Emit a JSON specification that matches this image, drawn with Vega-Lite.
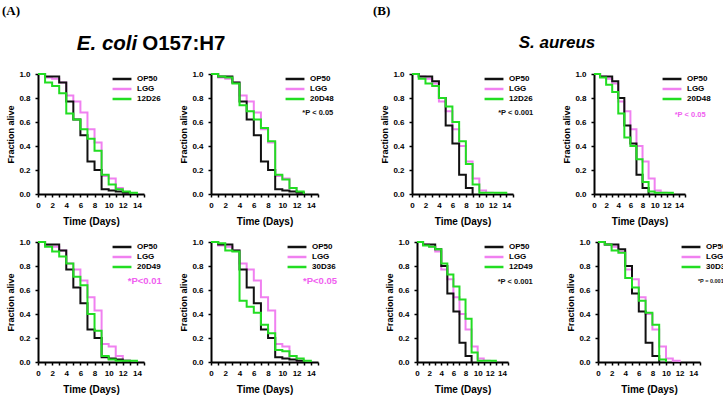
{
  "$schema": "https://vega.github.io/schema/vega-lite/v6.json",
  "autosize": {"type": "none"},
  "padding": {"left": 38, "top": 74, "right": 685, "bottom": 324},
  "background": "white",
  "datasets": {
    "ecoli_ctrl": [
      {"strain": "LGG", "day": 0, "fraction": 1.0}, {"strain": "LGG", "day": 1, "fraction": 0.97}, {"strain": "LGG", "day": 2, "fraction": 0.96},
      {"strain": "LGG", "day": 3, "fraction": 0.93}, {"strain": "LGG", "day": 4, "fraction": 0.82}, {"strain": "LGG", "day": 5, "fraction": 0.77},
      {"strain": "LGG", "day": 6, "fraction": 0.68}, {"strain": "LGG", "day": 7, "fraction": 0.54}, {"strain": "LGG", "day": 8, "fraction": 0.43},
      {"strain": "LGG", "day": 9, "fraction": 0.15}, {"strain": "LGG", "day": 10, "fraction": 0.13}, {"strain": "LGG", "day": 11, "fraction": 0.05},
      {"strain": "LGG", "day": 12, "fraction": 0.01}, {"strain": "LGG", "day": 13, "fraction": 0.0},
      {"strain": "OP50", "day": 0, "fraction": 1.0}, {"strain": "OP50", "day": 1, "fraction": 0.98}, {"strain": "OP50", "day": 2, "fraction": 0.98},
      {"strain": "OP50", "day": 3, "fraction": 0.93}, {"strain": "OP50", "day": 4, "fraction": 0.77}, {"strain": "OP50", "day": 5, "fraction": 0.62},
      {"strain": "OP50", "day": 6, "fraction": 0.49}, {"strain": "OP50", "day": 7, "fraction": 0.27}, {"strain": "OP50", "day": 8, "fraction": 0.2},
      {"strain": "OP50", "day": 9, "fraction": 0.04}, {"strain": "OP50", "day": 10, "fraction": 0.03}, {"strain": "OP50", "day": 11, "fraction": 0.02},
      {"strain": "OP50", "day": 12, "fraction": 0.01}, {"strain": "OP50", "day": 13, "fraction": 0.0}
    ],
    "ecoli_test": [
      {"strain": "12D26", "day": 0, "fraction": 1.0}, {"strain": "12D26", "day": 1, "fraction": 0.93}, {"strain": "12D26", "day": 2, "fraction": 0.9},
      {"strain": "12D26", "day": 3, "fraction": 0.84}, {"strain": "12D26", "day": 4, "fraction": 0.67}, {"strain": "12D26", "day": 5, "fraction": 0.62},
      {"strain": "12D26", "day": 6, "fraction": 0.54}, {"strain": "12D26", "day": 7, "fraction": 0.46}, {"strain": "12D26", "day": 8, "fraction": 0.36},
      {"strain": "12D26", "day": 9, "fraction": 0.16}, {"strain": "12D26", "day": 10, "fraction": 0.08}, {"strain": "12D26", "day": 11, "fraction": 0.04},
      {"strain": "12D26", "day": 12, "fraction": 0.02}, {"strain": "12D26", "day": 13, "fraction": 0.01}, {"strain": "12D26", "day": 14, "fraction": 0.0},
      {"strain": "20D48", "day": 0, "fraction": 1.0}, {"strain": "20D48", "day": 1, "fraction": 0.98}, {"strain": "20D48", "day": 2, "fraction": 0.97},
      {"strain": "20D48", "day": 3, "fraction": 0.92}, {"strain": "20D48", "day": 4, "fraction": 0.74}, {"strain": "20D48", "day": 5, "fraction": 0.69},
      {"strain": "20D48", "day": 6, "fraction": 0.62}, {"strain": "20D48", "day": 7, "fraction": 0.55}, {"strain": "20D48", "day": 8, "fraction": 0.44},
      {"strain": "20D48", "day": 9, "fraction": 0.16}, {"strain": "20D48", "day": 10, "fraction": 0.12}, {"strain": "20D48", "day": 11, "fraction": 0.05},
      {"strain": "20D48", "day": 12, "fraction": 0.02}, {"strain": "20D48", "day": 13, "fraction": 0.0},
      {"strain": "20D49", "day": 0, "fraction": 1.0}, {"strain": "20D49", "day": 1, "fraction": 0.96}, {"strain": "20D49", "day": 2, "fraction": 0.92},
      {"strain": "20D49", "day": 3, "fraction": 0.88}, {"strain": "20D49", "day": 4, "fraction": 0.82}, {"strain": "20D49", "day": 5, "fraction": 0.71},
      {"strain": "20D49", "day": 6, "fraction": 0.64}, {"strain": "20D49", "day": 7, "fraction": 0.4}, {"strain": "20D49", "day": 8, "fraction": 0.26},
      {"strain": "20D49", "day": 9, "fraction": 0.05}, {"strain": "20D49", "day": 10, "fraction": 0.02}, {"strain": "20D49", "day": 11, "fraction": 0.01},
      {"strain": "20D49", "day": 12, "fraction": 0.01}, {"strain": "20D49", "day": 13, "fraction": 0.01}, {"strain": "20D49", "day": 14, "fraction": 0.0},
      {"strain": "30D36", "day": 0, "fraction": 1.0}, {"strain": "30D36", "day": 1, "fraction": 0.99}, {"strain": "30D36", "day": 2, "fraction": 0.93},
      {"strain": "30D36", "day": 3, "fraction": 0.92}, {"strain": "30D36", "day": 4, "fraction": 0.51}, {"strain": "30D36", "day": 5, "fraction": 0.46},
      {"strain": "30D36", "day": 6, "fraction": 0.41}, {"strain": "30D36", "day": 7, "fraction": 0.31}, {"strain": "30D36", "day": 8, "fraction": 0.24},
      {"strain": "30D36", "day": 9, "fraction": 0.1}, {"strain": "30D36", "day": 10, "fraction": 0.09}, {"strain": "30D36", "day": 11, "fraction": 0.05},
      {"strain": "30D36", "day": 12, "fraction": 0.03}, {"strain": "30D36", "day": 13, "fraction": 0.01}, {"strain": "30D36", "day": 14, "fraction": 0.0}
    ],
    "saureus_ctrl": [
      {"strain": "LGG", "day": 0, "fraction": 1.0}, {"strain": "LGG", "day": 1, "fraction": 0.98}, {"strain": "LGG", "day": 2, "fraction": 0.96},
      {"strain": "LGG", "day": 3, "fraction": 0.92}, {"strain": "LGG", "day": 4, "fraction": 0.77}, {"strain": "LGG", "day": 5, "fraction": 0.69},
      {"strain": "LGG", "day": 6, "fraction": 0.54}, {"strain": "LGG", "day": 7, "fraction": 0.4}, {"strain": "LGG", "day": 8, "fraction": 0.27},
      {"strain": "LGG", "day": 9, "fraction": 0.13}, {"strain": "LGG", "day": 10, "fraction": 0.03}, {"strain": "LGG", "day": 11, "fraction": 0.01},
      {"strain": "LGG", "day": 12, "fraction": 0.0},
      {"strain": "OP50", "day": 0, "fraction": 1.0}, {"strain": "OP50", "day": 1, "fraction": 0.98}, {"strain": "OP50", "day": 2, "fraction": 0.98},
      {"strain": "OP50", "day": 3, "fraction": 0.94}, {"strain": "OP50", "day": 4, "fraction": 0.8}, {"strain": "OP50", "day": 5, "fraction": 0.57},
      {"strain": "OP50", "day": 6, "fraction": 0.42}, {"strain": "OP50", "day": 7, "fraction": 0.16}, {"strain": "OP50", "day": 8, "fraction": 0.05},
      {"strain": "OP50", "day": 9, "fraction": 0.0}
    ],
    "saureus_test": [
      {"strain": "12D26", "day": 0, "fraction": 1.0}, {"strain": "12D26", "day": 1, "fraction": 0.96}, {"strain": "12D26", "day": 2, "fraction": 0.92},
      {"strain": "12D26", "day": 3, "fraction": 0.9}, {"strain": "12D26", "day": 4, "fraction": 0.8}, {"strain": "12D26", "day": 5, "fraction": 0.73},
      {"strain": "12D26", "day": 6, "fraction": 0.6}, {"strain": "12D26", "day": 7, "fraction": 0.44}, {"strain": "12D26", "day": 8, "fraction": 0.25},
      {"strain": "12D26", "day": 9, "fraction": 0.08}, {"strain": "12D26", "day": 10, "fraction": 0.01}, {"strain": "12D26", "day": 11, "fraction": 0.01},
      {"strain": "12D26", "day": 12, "fraction": 0.01}, {"strain": "12D26", "day": 13, "fraction": 0.01}, {"strain": "12D26", "day": 14, "fraction": 0.0},
      {"strain": "20D48", "day": 0, "fraction": 1.0}, {"strain": "20D48", "day": 1, "fraction": 0.97}, {"strain": "20D48", "day": 2, "fraction": 0.91},
      {"strain": "20D48", "day": 3, "fraction": 0.85}, {"strain": "20D48", "day": 4, "fraction": 0.67}, {"strain": "20D48", "day": 5, "fraction": 0.47},
      {"strain": "20D48", "day": 6, "fraction": 0.4}, {"strain": "20D48", "day": 7, "fraction": 0.29}, {"strain": "20D48", "day": 8, "fraction": 0.1},
      {"strain": "20D48", "day": 9, "fraction": 0.02}, {"strain": "20D48", "day": 10, "fraction": 0.01}, {"strain": "20D48", "day": 11, "fraction": 0.01},
      {"strain": "20D48", "day": 12, "fraction": 0.01}, {"strain": "20D48", "day": 13, "fraction": 0.0},
      {"strain": "12D49", "day": 0, "fraction": 1.0}, {"strain": "12D49", "day": 1, "fraction": 0.97}, {"strain": "12D49", "day": 2, "fraction": 0.96},
      {"strain": "12D49", "day": 3, "fraction": 0.94}, {"strain": "12D49", "day": 4, "fraction": 0.82}, {"strain": "12D49", "day": 5, "fraction": 0.73},
      {"strain": "12D49", "day": 6, "fraction": 0.63}, {"strain": "12D49", "day": 7, "fraction": 0.52}, {"strain": "12D49", "day": 8, "fraction": 0.36},
      {"strain": "12D49", "day": 9, "fraction": 0.08}, {"strain": "12D49", "day": 10, "fraction": 0.01}, {"strain": "12D49", "day": 11, "fraction": 0.01},
      {"strain": "12D49", "day": 12, "fraction": 0.01}, {"strain": "12D49", "day": 13, "fraction": 0.0},
      {"strain": "30D36", "day": 0, "fraction": 1.0}, {"strain": "30D36", "day": 1, "fraction": 0.98}, {"strain": "30D36", "day": 2, "fraction": 0.93},
      {"strain": "30D36", "day": 3, "fraction": 0.91}, {"strain": "30D36", "day": 4, "fraction": 0.7}, {"strain": "30D36", "day": 5, "fraction": 0.62},
      {"strain": "30D36", "day": 6, "fraction": 0.51}, {"strain": "30D36", "day": 7, "fraction": 0.41}, {"strain": "30D36", "day": 8, "fraction": 0.31},
      {"strain": "30D36", "day": 9, "fraction": 0.02}, {"strain": "30D36", "day": 10, "fraction": 0.0}
    ]
  },
  "bounds": "flush",
  "spacing": 168,
  "resolve": {
    "scale": {"x": "independent", "y": "independent", "color": "independent"},
    "legend": {"color": "independent"}
  },
  "vconcat": [
    {
      "bounds": "flush",
      "spacing": 0,
      "resolve": {
        "scale": {"x": "independent", "y": "independent", "color": "independent"},
        "legend": {"color": "independent"}
      },
      "hconcat": [
        {
          "width": 106, "height": 120,
          "layer": [
            {"data": {"name": "ecoli_ctrl"}, "mark": {"type": "line", "interpolate": "step-after", "strokeWidth": 2},
             "encoding": {
               "x": {"field": "day", "type": "quantitative", "scale": {"domain": [0, 15], "nice": false}, "axis": {"title": "Time (Days)", "tickCount": 15, "labelExpr": "datum.value % 2 || datum.value > 14 ? '' : datum.label", "labelOverlap": false}},
               "y": {"field": "fraction", "type": "quantitative", "scale": {"domain": [0, 1], "nice": false}, "axis": {"title": "Fraction alive", "tickCount": 5, "format": ".1f", "labelOverlap": false}},
               "color": {"field": "strain", "type": "nominal", "scale": {"domain": ["OP50", "LGG", "12D26"], "range": ["#111111", "#f080f0", "#22dd22"]}, "legend": {"title": null, "orient": "right", "offset": -27, "symbolType": "M-2.7,0H2.7", "symbolSize": 49, "symbolStrokeWidth": 2.5}}
             }},
            {"data": {"name": "ecoli_test"}, "transform": [{"filter": "datum.strain === '12D26'"}], "mark": {"type": "line", "interpolate": "step-after", "strokeWidth": 2},
             "encoding": {
               "x": {"field": "day", "type": "quantitative"},
               "y": {"field": "fraction", "type": "quantitative"},
               "color": {"field": "strain", "type": "nominal", "scale": {"domain": ["OP50", "LGG", "12D26"], "range": ["#111111", "#f080f0", "#22dd22"]}, "legend": {"title": null, "orient": "right", "offset": -27, "symbolType": "M-2.7,0H2.7", "symbolSize": 49, "symbolStrokeWidth": 2.5}}
             }},
            {"data": {"values": [{}]}, "mark": {"type": "text", "text": "(A)", "font": "Liberation Serif", "fontSize": 13, "fontWeight": "bold", "align": "left", "baseline": "alphabetic", "fill": "#000"},
             "encoding": {"x": {"datum": -5.09}, "y": {"datum": 1.49}}},
            {"data": {"values": [{}]}, "mark": {"type": "text", "text": "E. coli", "fontSize": 20.5, "fontWeight": "bold", "fontStyle": "italic", "align": "left", "baseline": "alphabetic", "fill": "#000"},
             "encoding": {"x": {"datum": 5.5}, "y": {"datum": 1.2}}},
            {"data": {"values": [{}]}, "mark": {"type": "text", "text": "O157:H7", "fontSize": 20.5, "fontWeight": "bold", "align": "left", "baseline": "alphabetic", "fill": "#000"},
             "encoding": {"x": {"datum": 14.75}, "y": {"datum": 1.2}}}
          ]
        },
        {"width": 67, "height": 1, "data": {"values": [{}]}, "mark": {"type": "point", "opacity": 0}, "encoding": {}},
        {
          "width": 107, "height": 120,
          "layer": [
            {"data": {"name": "ecoli_ctrl"}, "mark": {"type": "line", "interpolate": "step-after", "strokeWidth": 2},
             "encoding": {
               "x": {"field": "day", "type": "quantitative", "scale": {"domain": [0, 15], "nice": false}, "axis": {"title": "Time (Days)", "tickCount": 15, "labelExpr": "datum.value % 2 || datum.value > 14 ? '' : datum.label", "labelOverlap": false}},
               "y": {"field": "fraction", "type": "quantitative", "scale": {"domain": [0, 1], "nice": false}, "axis": {"title": "Fraction alive", "tickCount": 5, "format": ".1f", "labelOverlap": false}},
               "color": {"field": "strain", "type": "nominal", "scale": {"domain": ["OP50", "LGG", "20D48"], "range": ["#111111", "#f080f0", "#22dd22"]}, "legend": {"title": null, "orient": "right", "offset": -28, "symbolType": "M-2.7,0H2.7", "symbolSize": 49, "symbolStrokeWidth": 2.5}}
             }},
            {"data": {"name": "ecoli_test"}, "transform": [{"filter": "datum.strain === '20D48'"}], "mark": {"type": "line", "interpolate": "step-after", "strokeWidth": 2},
             "encoding": {
               "x": {"field": "day", "type": "quantitative"},
               "y": {"field": "fraction", "type": "quantitative"},
               "color": {"field": "strain", "type": "nominal", "scale": {"domain": ["OP50", "LGG", "20D48"], "range": ["#111111", "#f080f0", "#22dd22"]}, "legend": {"title": null, "orient": "right", "offset": -28, "symbolType": "M-2.7,0H2.7", "symbolSize": 49, "symbolStrokeWidth": 2.5}}
             }},
            {"data": {"values": [{}]}, "mark": {"type": "text", "text": "*P < 0.05", "fontSize": 7.5, "fontWeight": "bold", "align": "left", "baseline": "middle", "fill": "#111"},
             "encoding": {"x": {"datum": 12.8}, "y": {"datum": 0.675}}}
          ]
        },
        {"width": 94, "height": 1, "data": {"values": [{}]}, "mark": {"type": "point", "opacity": 0}, "encoding": {}},
        {
          "width": 101, "height": 120,
          "layer": [
            {"data": {"name": "saureus_ctrl"}, "mark": {"type": "line", "interpolate": "step-after", "strokeWidth": 2},
             "encoding": {
               "x": {"field": "day", "type": "quantitative", "scale": {"domain": [0, 15], "nice": false}, "axis": {"title": "Time (Days)", "tickCount": 15, "labelExpr": "datum.value % 2 || datum.value > 14 ? '' : datum.label", "labelOverlap": false}},
               "y": {"field": "fraction", "type": "quantitative", "scale": {"domain": [0, 1], "nice": false}, "axis": {"title": "Fraction alive", "tickCount": 5, "format": ".1f", "labelOverlap": false}},
               "color": {"field": "strain", "type": "nominal", "scale": {"domain": ["OP50", "LGG", "12D26"], "range": ["#111111", "#f080f0", "#22dd22"]}, "legend": {"title": null, "orient": "right", "offset": -24, "symbolType": "M-2.7,0H2.7", "symbolSize": 49, "symbolStrokeWidth": 2.5}}
             }},
            {"data": {"name": "saureus_test"}, "transform": [{"filter": "datum.strain === '12D26'"}], "mark": {"type": "line", "interpolate": "step-after", "strokeWidth": 2},
             "encoding": {
               "x": {"field": "day", "type": "quantitative"},
               "y": {"field": "fraction", "type": "quantitative"},
               "color": {"field": "strain", "type": "nominal", "scale": {"domain": ["OP50", "LGG", "12D26"], "range": ["#111111", "#f080f0", "#22dd22"]}, "legend": {"title": null, "orient": "right", "offset": -24, "symbolType": "M-2.7,0H2.7", "symbolSize": 49, "symbolStrokeWidth": 2.5}}
             }},
            {"data": {"values": [{}]}, "mark": {"type": "text", "text": "*P < 0.001", "fontSize": 7.5, "fontWeight": "bold", "align": "left", "baseline": "middle", "fill": "#111"},
             "encoding": {"x": {"datum": 12.8}, "y": {"datum": 0.675}}},
            {"data": {"values": [{}]}, "mark": {"type": "text", "text": "(B)", "font": "Liberation Serif", "fontSize": 13, "fontWeight": "bold", "align": "left", "baseline": "alphabetic", "fill": "#000"},
             "encoding": {"x": {"datum": -5.8}, "y": {"datum": 1.49}}},
            {"data": {"values": [{}]}, "mark": {"type": "text", "text": "S. aureus", "fontSize": 17, "fontWeight": "bold", "fontStyle": "italic", "align": "center", "baseline": "alphabetic", "fill": "#000"},
             "encoding": {"x": {"datum": 21.53}, "y": {"datum": 1.217}}}
          ]
        },
        {"width": 81, "height": 1, "data": {"values": [{}]}, "mark": {"type": "point", "opacity": 0}, "encoding": {}},
        {
          "width": 91, "height": 120,
          "layer": [
            {"data": {"name": "saureus_ctrl"}, "mark": {"type": "line", "interpolate": "step-after", "strokeWidth": 2},
             "encoding": {
               "x": {"field": "day", "type": "quantitative", "scale": {"domain": [0, 15], "nice": false}, "axis": {"title": "Time (Days)", "tickCount": 15, "labelExpr": "datum.value % 2 || datum.value > 14 ? '' : datum.label", "labelOverlap": false}},
               "y": {"field": "fraction", "type": "quantitative", "scale": {"domain": [0, 1], "nice": false}, "axis": {"title": "Fraction alive", "tickCount": 5, "format": ".1f", "labelOverlap": false}},
               "color": {"field": "strain", "type": "nominal", "scale": {"domain": ["OP50", "LGG", "20D48"], "range": ["#111111", "#f080f0", "#22dd22"]}, "legend": {"title": null, "orient": "right", "offset": -18, "symbolType": "M-2.7,0H2.7", "symbolSize": 49, "symbolStrokeWidth": 2.5}}
             }},
            {"data": {"name": "saureus_test"}, "transform": [{"filter": "datum.strain === '20D48'"}], "mark": {"type": "line", "interpolate": "step-after", "strokeWidth": 2},
             "encoding": {
               "x": {"field": "day", "type": "quantitative"},
               "y": {"field": "fraction", "type": "quantitative"},
               "color": {"field": "strain", "type": "nominal", "scale": {"domain": ["OP50", "LGG", "20D48"], "range": ["#111111", "#f080f0", "#22dd22"]}, "legend": {"title": null, "orient": "right", "offset": -18, "symbolType": "M-2.7,0H2.7", "symbolSize": 49, "symbolStrokeWidth": 2.5}}
             }},
            {"data": {"values": [{}]}, "mark": {"type": "text", "text": "*P < 0.05", "fontSize": 7.5, "fontWeight": "bold", "align": "left", "baseline": "middle", "fill": "#f060f0"},
             "encoding": {"x": {"datum": 13.3}, "y": {"datum": 0.66}}}
          ]
        }
      ]
    },
    {
      "bounds": "flush",
      "spacing": 0,
      "resolve": {
        "scale": {"x": "independent", "y": "independent", "color": "independent"},
        "legend": {"color": "independent"}
      },
      "hconcat": [
        {
          "width": 106, "height": 120,
          "layer": [
            {"data": {"name": "ecoli_ctrl"}, "mark": {"type": "line", "interpolate": "step-after", "strokeWidth": 2},
             "encoding": {
               "x": {"field": "day", "type": "quantitative", "scale": {"domain": [0, 15], "nice": false}, "axis": {"title": "Time (Days)", "tickCount": 15, "labelExpr": "datum.value % 2 || datum.value > 14 ? '' : datum.label", "labelOverlap": false}},
               "y": {"field": "fraction", "type": "quantitative", "scale": {"domain": [0, 1], "nice": false}, "axis": {"title": "Fraction alive", "tickCount": 5, "format": ".1f", "labelOverlap": false}},
               "color": {"field": "strain", "type": "nominal", "scale": {"domain": ["OP50", "LGG", "20D49"], "range": ["#111111", "#f080f0", "#22dd22"]}, "legend": {"title": null, "orient": "right", "offset": -27, "symbolType": "M-2.7,0H2.7", "symbolSize": 49, "symbolStrokeWidth": 2.5}}
             }},
            {"data": {"name": "ecoli_test"}, "transform": [{"filter": "datum.strain === '20D49'"}], "mark": {"type": "line", "interpolate": "step-after", "strokeWidth": 2},
             "encoding": {
               "x": {"field": "day", "type": "quantitative"},
               "y": {"field": "fraction", "type": "quantitative"},
               "color": {"field": "strain", "type": "nominal", "scale": {"domain": ["OP50", "LGG", "20D49"], "range": ["#111111", "#f080f0", "#22dd22"]}, "legend": {"title": null, "orient": "right", "offset": -27, "symbolType": "M-2.7,0H2.7", "symbolSize": 49, "symbolStrokeWidth": 2.5}}
             }},
            {"data": {"values": [{}]}, "mark": {"type": "text", "text": "*P<0.01", "fontSize": 9.5, "fontWeight": "bold", "align": "left", "baseline": "middle", "fill": "#f060f0"},
             "encoding": {"x": {"datum": 12.7}, "y": {"datum": 0.675}}}
          ]
        },
        {"width": 67, "height": 1, "data": {"values": [{}]}, "mark": {"type": "point", "opacity": 0}, "encoding": {}},
        {
          "width": 107, "height": 120,
          "layer": [
            {"data": {"name": "ecoli_ctrl"}, "mark": {"type": "line", "interpolate": "step-after", "strokeWidth": 2},
             "encoding": {
               "x": {"field": "day", "type": "quantitative", "scale": {"domain": [0, 15], "nice": false}, "axis": {"title": "Time (Days)", "tickCount": 15, "labelExpr": "datum.value % 2 || datum.value > 14 ? '' : datum.label", "labelOverlap": false}},
               "y": {"field": "fraction", "type": "quantitative", "scale": {"domain": [0, 1], "nice": false}, "axis": {"title": "Fraction alive", "tickCount": 5, "format": ".1f", "labelOverlap": false}},
               "color": {"field": "strain", "type": "nominal", "scale": {"domain": ["OP50", "LGG", "30D36"], "range": ["#111111", "#f080f0", "#22dd22"]}, "legend": {"title": null, "orient": "right", "offset": -26, "symbolType": "M-2.7,0H2.7", "symbolSize": 49, "symbolStrokeWidth": 2.5}}
             }},
            {"data": {"name": "ecoli_test"}, "transform": [{"filter": "datum.strain === '30D36'"}], "mark": {"type": "line", "interpolate": "step-after", "strokeWidth": 2},
             "encoding": {
               "x": {"field": "day", "type": "quantitative"},
               "y": {"field": "fraction", "type": "quantitative"},
               "color": {"field": "strain", "type": "nominal", "scale": {"domain": ["OP50", "LGG", "30D36"], "range": ["#111111", "#f080f0", "#22dd22"]}, "legend": {"title": null, "orient": "right", "offset": -26, "symbolType": "M-2.7,0H2.7", "symbolSize": 49, "symbolStrokeWidth": 2.5}}
             }},
            {"data": {"values": [{}]}, "mark": {"type": "text", "text": "*P<0.05", "fontSize": 9.5, "fontWeight": "bold", "align": "left", "baseline": "middle", "fill": "#f060f0"},
             "encoding": {"x": {"datum": 12.9}, "y": {"datum": 0.675}}}
          ]
        },
        {"width": 99, "height": 1, "data": {"values": [{}]}, "mark": {"type": "point", "opacity": 0}, "encoding": {}},
        {
          "width": 91, "height": 120,
          "layer": [
            {"data": {"name": "saureus_ctrl"}, "mark": {"type": "line", "interpolate": "step-after", "strokeWidth": 2},
             "encoding": {
               "x": {"field": "day", "type": "quantitative", "scale": {"domain": [0, 15], "nice": false}, "axis": {"title": "Time (Days)", "tickCount": 15, "labelExpr": "datum.value % 2 || datum.value > 14 ? '' : datum.label", "labelOverlap": false}},
               "y": {"field": "fraction", "type": "quantitative", "scale": {"domain": [0, 1], "nice": false}, "axis": {"title": "Fraction alive", "tickCount": 5, "format": ".1f", "labelOverlap": false}},
               "color": {"field": "strain", "type": "nominal", "scale": {"domain": ["OP50", "LGG", "12D49"], "range": ["#111111", "#f080f0", "#22dd22"]}, "legend": {"title": null, "orient": "right", "offset": -19, "symbolType": "M-2.7,0H2.7", "symbolSize": 49, "symbolStrokeWidth": 2.5}}
             }},
            {"data": {"name": "saureus_test"}, "transform": [{"filter": "datum.strain === '12D49'"}], "mark": {"type": "line", "interpolate": "step-after", "strokeWidth": 2},
             "encoding": {
               "x": {"field": "day", "type": "quantitative"},
               "y": {"field": "fraction", "type": "quantitative"},
               "color": {"field": "strain", "type": "nominal", "scale": {"domain": ["OP50", "LGG", "12D49"], "range": ["#111111", "#f080f0", "#22dd22"]}, "legend": {"title": null, "orient": "right", "offset": -19, "symbolType": "M-2.7,0H2.7", "symbolSize": 49, "symbolStrokeWidth": 2.5}}
             }},
            {"data": {"values": [{}]}, "mark": {"type": "text", "text": "*P < 0.001", "fontSize": 7.5, "fontWeight": "bold", "align": "left", "baseline": "middle", "fill": "#111"},
             "encoding": {"x": {"datum": 13.3}, "y": {"datum": 0.667}}}
          ]
        },
        {"width": 90, "height": 1, "data": {"values": [{}]}, "mark": {"type": "point", "opacity": 0}, "encoding": {}},
        {
          "width": 102, "height": 120,
          "layer": [
            {"data": {"name": "saureus_ctrl"}, "mark": {"type": "line", "interpolate": "step-after", "strokeWidth": 2},
             "encoding": {
               "x": {"field": "day", "type": "quantitative", "scale": {"domain": [0, 15], "nice": false}, "axis": {"title": "Time (Days)", "tickCount": 15, "labelExpr": "datum.value % 2 || datum.value > 14 ? '' : datum.label", "labelOverlap": false}},
               "y": {"field": "fraction", "type": "quantitative", "scale": {"domain": [0, 1], "nice": false}, "axis": {"title": "Fraction alive", "tickCount": 5, "format": ".1f", "labelOverlap": false}},
               "color": {"field": "strain", "type": "nominal", "scale": {"domain": ["OP50", "LGG", "30D36"], "range": ["#111111", "#f080f0", "#22dd22"]}, "legend": {"title": null, "orient": "right", "offset": -14, "symbolType": "M-2.7,0H2.7", "symbolSize": 49, "symbolStrokeWidth": 2.5}}
             }},
            {"data": {"name": "saureus_test"}, "transform": [{"filter": "datum.strain === '30D36'"}], "mark": {"type": "line", "interpolate": "step-after", "strokeWidth": 2},
             "encoding": {
               "x": {"field": "day", "type": "quantitative"},
               "y": {"field": "fraction", "type": "quantitative"},
               "color": {"field": "strain", "type": "nominal", "scale": {"domain": ["OP50", "LGG", "30D36"], "range": ["#111111", "#f080f0", "#22dd22"]}, "legend": {"title": null, "orient": "right", "offset": -14, "symbolType": "M-2.7,0H2.7", "symbolSize": 49, "symbolStrokeWidth": 2.5}}
             }},
            {"data": {"values": [{}]}, "mark": {"type": "text", "text": "*P = 0.001", "fontSize": 5.5, "fontWeight": "bold", "align": "left", "baseline": "middle", "fill": "#111"},
             "encoding": {"x": {"datum": 14.7}, "y": {"datum": 0.675}}}
          ]
        }
      ]
    }
  ],
  "config": {
    "view": {"stroke": null},
    "font": "Liberation Sans",
    "axis": {
      "grid": false, "domainColor": "#000", "domainWidth": 2, "tickColor": "#000", "tickWidth": 1.5, "tickSize": 3,
      "labelFont": "Liberation Sans", "labelFontWeight": "bold", "labelFontSize": 8, "labelColor": "#000",
      "labelOverlap": false, "labelFlush": false,
      "titleFont": "Liberation Sans", "titleFontWeight": "bold", "titleColor": "#000"
    },
    "axisX": {"titleFontSize": 10, "titlePadding": 7, "labelPadding": 4},
    "axisY": {"titleFontSize": 9, "titlePadding": 3, "labelPadding": 5},
    "legend": {
      "labelFont": "Liberation Sans", "labelFontWeight": "bold", "labelFontSize": 8, "labelColor": "#000",
      "rowPadding": 0, "padding": 0, "labelOffset": 10
    }
  }
}
